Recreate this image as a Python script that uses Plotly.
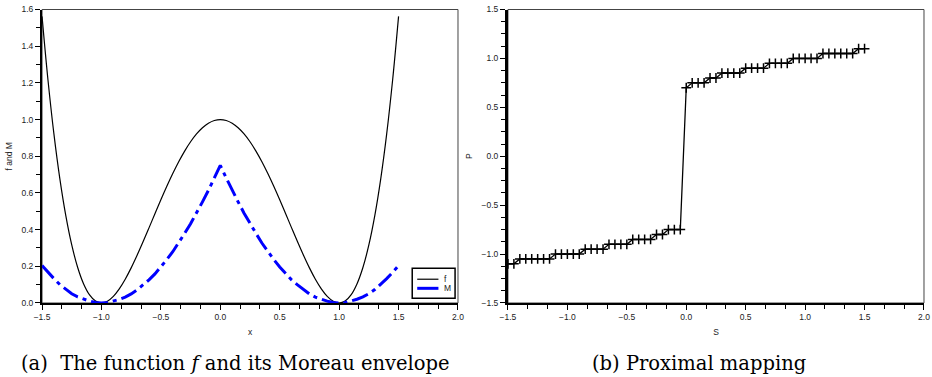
import plotly.graph_objects as go

# ---- data ----
x_vals = [-1.5, -1.45, -1.4, -1.35, -1.3, -1.25, -1.2, -1.15, -1.1, -1.05, -1.0,
          -0.95, -0.9, -0.85, -0.8, -0.75, -0.7, -0.65, -0.6, -0.55, -0.5,
          -0.45, -0.4, -0.35, -0.3, -0.25, -0.2, -0.15, -0.1, -0.05, 0.0,
          0.05, 0.1, 0.15, 0.2, 0.25, 0.3, 0.35, 0.4, 0.45, 0.5,
          0.55, 0.6, 0.65, 0.7, 0.75, 0.8, 0.85, 0.9, 0.95, 1.0,
          1.05, 1.1, 1.15, 1.2, 1.25, 1.3, 1.35, 1.4, 1.45, 1.5]

f_vals = [1.5625, 1.2155, 0.9216, 0.6765, 0.4761, 0.3164, 0.1936, 0.1040, 0.0441, 0.0105, 0.0,
          0.0095, 0.0361, 0.0770, 0.1296, 0.1914, 0.2601, 0.3335, 0.4096, 0.4865, 0.5625,
          0.6360, 0.7056, 0.7700, 0.8281, 0.8789, 0.9216, 0.9555, 0.9801, 0.9950, 1.0,
          0.9950, 0.9801, 0.9555, 0.9216, 0.8789, 0.8281, 0.7700, 0.7056, 0.6360, 0.5625,
          0.4865, 0.4096, 0.3335, 0.2601, 0.1914, 0.1296, 0.0770, 0.0361, 0.0095, 0.0,
          0.0105, 0.0441, 0.1040, 0.1936, 0.3164, 0.4761, 0.6765, 0.9216, 1.2155, 1.5625]

m_vals = [0.2041, 0.1666, 0.1330, 0.1005, 0.0730, 0.0505, 0.0330, 0.0205, 0.0100, 0.0025, 0.0,
          0.0025, 0.0100, 0.0195, 0.0320, 0.0495, 0.0720, 0.0986, 0.1261, 0.1586, 0.1961,
          0.2370, 0.2795, 0.3270, 0.3795, 0.4321, 0.4896, 0.5514, 0.6139, 0.6814, 0.7501,
          0.6814, 0.6139, 0.5514, 0.4896, 0.4321, 0.3795, 0.3270, 0.2795, 0.2370, 0.1961,
          0.1586, 0.1261, 0.0986, 0.0720, 0.0495, 0.0320, 0.0195, 0.0100, 0.0025, 0.0,
          0.0025, 0.0100, 0.0205, 0.0330, 0.0505, 0.0730, 0.1005, 0.1330, 0.1666, 0.2041]

s_vals = x_vals
p_vals = [-1.1, -1.1, -1.05, -1.05, -1.05, -1.05, -1.05, -1.05, -1.0, -1.0, -1.0,
          -1.0, -1.0, -0.95, -0.95, -0.95, -0.95, -0.9, -0.9, -0.9, -0.9,
          -0.85, -0.85, -0.85, -0.85, -0.8, -0.8, -0.75, -0.75, -0.75, 0.7,
          0.75, 0.75, 0.75, 0.8, 0.8, 0.85, 0.85, 0.85, 0.85, 0.9,
          0.9, 0.9, 0.9, 0.95, 0.95, 0.95, 0.95, 1.0, 1.0, 1.0,
          1.0, 1.0, 1.05, 1.05, 1.05, 1.05, 1.05, 1.05, 1.1, 1.1]

series_names = ["f", "M"]
series_colors = ["black", "#0000ff"]

x_ticks = [-1.5, -1.0, -0.5, 0.0, 0.5, 1.0, 1.5, 2.0]
left_y_ticks = [0.0, 0.2, 0.4, 0.6, 0.8, 1.0, 1.2, 1.4, 1.6]
right_y_ticks = [-1.5, -1.0, -0.5, 0.0, 0.5, 1.0, 1.5]

caption_a = "(a)\u00a0\u00a0The function <i>f</i> and its Moreau envelope"
caption_b = "(b) Proximal mapping"

# ---- figure ----
fig = go.Figure()

fig.add_trace(go.Scatter(x=x_vals, y=f_vals, mode="lines", name=series_names[0],
                         line=dict(color=series_colors[0], width=1.2, shape="spline"),
                         xaxis="x", yaxis="y"))
fig.add_trace(go.Scatter(x=x_vals, y=m_vals, mode="lines", name=series_names[1],
                         line=dict(color=series_colors[1], width=3, dash="17px,5px,4px,5px"),
                         xaxis="x", yaxis="y"))
fig.add_trace(go.Scatter(x=s_vals, y=p_vals, mode="lines+markers",
                         line=dict(color="black", width=1.3),
                         marker=dict(symbol="cross-thin", size=7,
                                     line=dict(color="black", width=1.5)),
                         xaxis="x2", yaxis="y2"))

tickfont = dict(family="Liberation Sans, Arial, sans-serif", size=8.5, color="#222")
titlefont = dict(family="Liberation Sans, Arial, sans-serif", size=8.5, color="#222")

y_dom = [0.1963, 0.9748]

def xaxis(domain, anchor, title):
    return dict(domain=domain, anchor=anchor, range=[-1.5, 2.0], tickvals=x_ticks,
                tickformat=".1f", ticks="outside", ticklen=5, tickwidth=1,
                tickcolor="black", showline=True, linecolor="black", linewidth=2,
                showgrid=False, zeroline=False, tickfont=tickfont, automargin=False,
                minor=dict(dtick=0.5 / 3, tick0=-1.5, ticks="outside", ticklen=4,
                           tickcolor="black", showgrid=False),
                title=dict(text=title, font=titlefont, standoff=8))

fig.update_layout(
    width=932, height=377,
    margin=dict(l=0, r=0, t=0, b=0),
    paper_bgcolor="white", plot_bgcolor="white",
    showlegend=False,
    xaxis=xaxis([0.0451, 0.4914], "y", "x"),
    xaxis2=xaxis([0.545, 0.9914], "y2", "S"),
    yaxis=dict(domain=y_dom, anchor="x", range=[0, 1.6], tickvals=left_y_ticks,
               tickformat=".1f", ticks="outside", ticklen=5, tickcolor="black",
               showline=True, linecolor="black", linewidth=2, showgrid=False,
               zeroline=False, tickfont=tickfont, automargin=False,
               minor=dict(dtick=0.1, ticks="outside", ticklen=4, tickcolor="black",
                          showgrid=False),
               title=dict(text="f and M", font=titlefont, standoff=8)),
    yaxis2=dict(domain=y_dom, anchor="x2", range=[-1.5, 1.5], tickvals=right_y_ticks,
                tickformat=".1f", ticks="outside", ticklen=5, tickcolor="black",
                showline=True, linecolor="black", linewidth=3, showgrid=False,
                zeroline=False, tickfont=tickfont, automargin=False,
                minor=dict(dtick=0.125, tick0=-1.5, ticks="outside", ticklen=4,
                           tickcolor="black", showgrid=False),
                title=dict(text="P", font=titlefont, standoff=8)),
)

# thin frame around plot areas
for xr, yr in (("x", "y"), ("x2", "y2")):
    fig.add_shape(type="rect", xref=f"{xr} domain", yref=f"{yr} domain",
                  x0=0, x1=1, y0=0, y1=1, line=dict(color="#444", width=1),
                  layer="below")

# compact legend box (left panel, lower right corner)
fig.add_shape(type="rect", xref="x domain", yref="y domain",
              x0=0.890, x1=0.993, y0=0.016, y1=0.118,
              line=dict(color="black", width=1.5), fillcolor="white", layer="above")
legend_rows = [0.081, 0.050]
legend_widths = [1.2, 3]
for name, color, yy, lw in zip(series_names, series_colors, legend_rows, legend_widths):
    fig.add_shape(type="line", xref="x domain", yref="y domain",
                  x0=0.902, x1=0.953, y0=yy, y1=yy,
                  line=dict(color=color, width=lw), layer="above")
    fig.add_annotation(text=name, xref="x domain", yref="y domain", x=0.962, y=yy,
                       xanchor="left", yanchor="middle", showarrow=False,
                       font=dict(family="Liberation Sans, Arial, sans-serif", size=8.5,
                                 color="#222"))

capfont = dict(family="DejaVu Serif, serif", size=19.5, color="black")
fig.add_annotation(text=caption_a, xref="paper", yref="paper", x=235 / 932, y=(377 - 363) / 377,
                   xanchor="center", yanchor="middle", showarrow=False, font=capfont)
fig.add_annotation(text=caption_b, xref="paper", yref="paper", x=699 / 932, y=(377 - 363) / 377,
                   xanchor="center", yanchor="middle", showarrow=False, font=capfont)

fig.write_html("out.html", config={"displayModeBar": False},
               post_script="document.body.style.margin='0';document.body.style.overflow='hidden';")
